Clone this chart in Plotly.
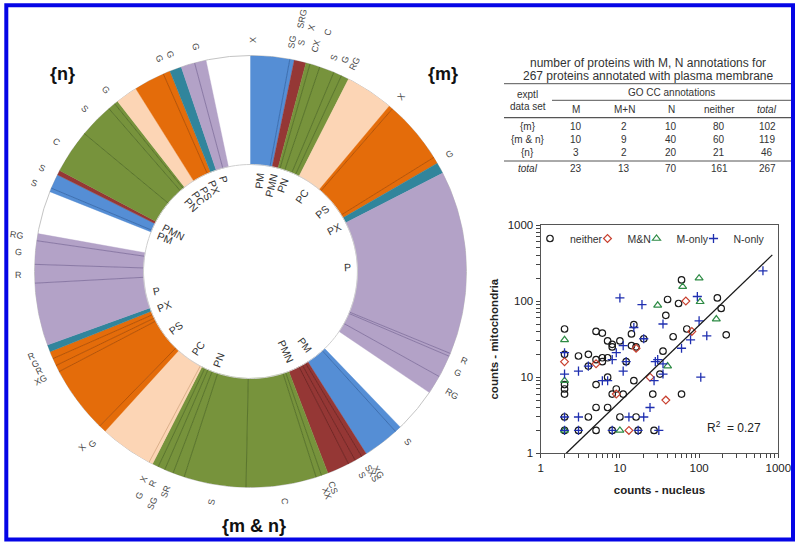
import math
import numpy as np
import plotly.graph_objects as go

# ---------- ring data: widths (degrees) of sub-slices, clockwise from 12 o'clock ----------
sector_kind = ["blue","red","green","peach","orange","teal","purple","none",
               "blue","red","green","peach","orange","teal","purple","none",
               "blue","red","green","peach","orange","teal","purple","none"]
sector_widths = [
    [10.5,1.2],[3.2],[1.1,2.7,4.0,2.2,2.1],[13.0],[1.1,17.0,1.8],[3.0],[49.4,0.8,6.0,5.0],[12.0],
    [1.7,9.8],[1.4,2.0,2.0,6.0],[1.8,1.5,18.9,16.7,3.1,2.4,1.9,1.7],[1.0,14.3],[2.0,18.1,1.8,2.0,2.0],[1.9],[16.8,5.0,6.3,1.9],[11.6],
    [1.0,3.9],[1.3],[11.8,9.3,2.0,1.0],[5.9],[8.3,1.9],[3.2],[3.7,3.1],[11.9],
]
kind_fill = {"blue":"#558ed5","red":"#953735","green":"#77933c","peach":"#fcd5b5",
             "orange":"#e46c0a","teal":"#31859c","purple":"#b3a2c7","none":"rgba(0,0,0,0)"}
kind_line = {"blue":"#3a6bab","red":"#6e2523","green":"#56702a","peach":"#d8ac84",
             "orange":"#b05007","teal":"#24687a","purple":"#8574a0","none":"rgba(0,0,0,0)"}

outer_labels = ["X","SG","SRG","S","X","CX","C","S","G","RG","X","G","R","G","RG","S","S","SXS","XG","CS","XX","C",
                "S","SR","R","SG","X","G","G","X","XG","R","G","R","R","G","RG","S","S","C","S","G","G","G","G"]
outer_theta = [0.5,10.2,11.6,12.6,14.1,16.1,18.0,21.4,24.1,26.7,40.7,59.5,112.6,116.1,121.4,137.2,151.3,149.0,147.5,159.2,160.9,171.5,
               189.5,201.2,204.8,202.9,207.1,206.4,222.5,223.8,242.7,244.8,246.7,248.9,269.2,274.7,278.9,292.1,296.3,303.7,314.6,321.4,336.8,339.8,346.3]
outer_r = [231,233.5,258.5,234,251,235,251.5,230,231.6,233,230.5,231,232,231,235.7,232,232,235,237.6,232,235,233,
           234,236,233,251.6,233.5,250.5,234,244,236,233.5,234.6,234.5,232,233,236.6,234,233,233,232,232,232,231,231]

inner_labels = ["PM","PMN","PN","PC","PS","PX","P","PM","PMN","PN","PC","PS","PX","P","PM","PMN","PN","PC","PS","PX","P"]
inner_theta = [5.3,13.5,20.4,34,50,63.2,87.1,143.4,155.8,200,214.2,232.8,248.4,258.3,291.2,297.3,318.5,324.5,330.3,336.6,343.6]
inner_r = [91.2,87.9,92.3,91.5,93,93.5,97,91.5,86.8,94,92.9,94,92.7,96.5,91.7,86.8,88.8,89.9,90,91.8,96]

# ---------- table ----------
table_title = ["number of proteins with M, N annotations for","267 proteins annotated with plasma membrane"]
table_cols = ["M","M+N","N","neither","total"]
table_rows = ["{m}","{m & n}","{n}","total"]
table_vals = [[10,2,10,80,102],[10,9,40,60,119],[3,2,20,21,46],[23,13,70,161,267]]

# ---------- scatter ----------
neither_x = [2,2,2,2,2,3,4,4,5,6,7,8,8,10,14,15,14,16,20,5,6,6,7,7,5,9,8,11,15,12,5,7,4,10,16,5,8,17,27,26,32,35,38,40,55,60,47,70,60,170,190,220,2,3,2]
neither_y = [43,6,7,8,20,19,20,14,40,38,30,27,25,30,37,49,26,25,32,17,18,16,18,10,8,7,6,6,9,16,4,4,3,3,3,2,2,2,2,6,11,22,65,105,93,190,34,43,6,110,80,36,2,2,3]
mn_x = [2,5,9,16,24,38,13,81,68]
mn_y = [16,15,6,24,10,5,2,40,100]
m_x = [2,2,2,10,40,30,62,100,103,165]
m_y = [31,9,2,2,14,88,155,200,98,58]
n_x = [2,2,2,2,3,3,3,4,6,7,8,9,11,11,12,13,8,17,10,19,15,20,20,24,27,28,30,35,35,31,35,60,78,100,125,105,95,640]
n_y = [21,11,3,2,12,3,2,14,9,9,17,21,26,12,16,3,2,2,110,90,45,32,3,4,9,16,17,15,11,2,50,24,31,55,35,10,115,250]
fit_x = [2.1,840]
fit_y = [1,405]
tick_values = [1,2,3,4,5,6,7,8,9,10,20,30,40,50,60,70,80,90,100,200,300,400,500,600,700,800,900,1000]
tick_text = ["1"]+[""]*8+["10"]+[""]*8+["100"]+[""]*8+["1000"]

W, H = 800, 545
CX, CY, R_OUT, R_IN = 250.5, 271.5, 216.0, 107.0
px = lambda x: x / W
py = lambda y: 1 - y / H

fig = go.Figure()

# ring
thetas, widths, fills, edges = [], [], [], []
sub_t, sub_r, sub_c = [], [], []
pos = 0.0
for kind, ws in zip(sector_kind, sector_widths):
    for i, w in enumerate(ws):
        thetas.append(pos + w / 2); widths.append(w)
        fills.append(kind_fill[kind]); edges.append(kind_fill[kind])
        pos += w
        if i < len(ws) - 1:
            sub_t.append(pos); sub_c.append(kind_line[kind])
fig.add_trace(go.Barpolar(theta=thetas, width=widths, r=[R_OUT - R_IN] * len(thetas), base=R_IN,
                          marker=dict(color=fills, line=dict(color=edges, width=0.4)),
                          showlegend=False, hoverinfo="skip"))
for colour in sorted(set(sub_c)):
    t, r = [], []
    for a, c in zip(sub_t, sub_c):
        if c == colour:
            t += [a, a, None]; r += [R_IN, R_OUT, None]
    fig.add_trace(go.Scatterpolar(theta=t, r=r, mode="lines", line=dict(color=colour, width=0.9),
                                  showlegend=False, hoverinfo="skip"))
# inner circle
circle = list(np.arange(0, 361, 2.0))
fig.add_trace(go.Scatterpolar(theta=circle, r=[R_IN] * len(circle), mode="lines",
                              line=dict(color="#cfcfcf", width=1), showlegend=False, hoverinfo="skip"))
# ticks
tt, tr = [], []
for a, r in zip(outer_theta, outer_r):
    tt += [a, a, None]
    tr += [219, (224 if r < 240 else r - 13), None]
fig.add_trace(go.Scatterpolar(theta=tt, r=tr, mode="lines", line=dict(color="#444444", width=0.8),
                              cliponaxis=False, showlegend=False, hoverinfo="skip"))

# scatter
fig.add_trace(go.Scatter(x=neither_x, y=neither_y, mode="markers", name="neither",
    marker=dict(symbol="circle-open", size=6.5, color="#1a1a1a", line=dict(width=1.2)), legendwidth=12.5))
fig.add_trace(go.Scatter(x=mn_x, y=mn_y, mode="markers", name="M&N",
    marker=dict(symbol="diamond-open", size=6, color="#c8402f", line=dict(width=1.2)), legendwidth=4))
fig.add_trace(go.Scatter(x=m_x, y=m_y, mode="markers", name="M-only",
    marker=dict(symbol="triangle-up-open", size=7, color="#2e8b45", line=dict(width=1.2)), legendwidth=12))
fig.add_trace(go.Scatter(x=n_x, y=n_y, mode="markers", name="N-only",
    marker=dict(symbol="cross-thin-open", size=6.5, color="#1f2fb0", line=dict(width=1.3)), legendwidth=33))
fig.add_trace(go.Scatter(x=fit_x, y=fit_y, mode="lines", line=dict(color="#1a1a1a", width=1.3),
                         showlegend=False, hoverinfo="skip"))

ann = []
def text(x, y, s, size=10, color="#333333", bold=False, italic=False, angle=0):
    if bold: s = "<b>%s</b>" % s
    if italic: s = "<i>%s</i>" % s
    ann.append(dict(x=px(x), y=py(y), xref="paper", yref="paper", text=s, showarrow=False,
                    xanchor="center", yanchor="middle", textangle=angle,
                    font=dict(size=size, color=color)))

def polar_text(s, a, r, size, color):
    x = CX + r * math.sin(math.radians(a))
    y = CY - r * math.cos(math.radians(a))
    text(x, y, s, size=size, color=color, angle=(a - 90 if a <= 180 else a - 270))

for s, a, r in zip(outer_labels, outer_theta, outer_r):
    polar_text(s, a, r, 9, "#4a4a4a")
for s, a, r in zip(inner_labels, inner_theta, inner_r):
    polar_text(s, a, r, 10.5, "#333333")

text(62, 74, "{n}", size=18, color="#111111", bold=True)
text(443, 74, "{m}", size=18, color="#111111", bold=True)
text(253.5, 526, "{m &amp; n}", size=18, color="#111111", bold=True)

# table text
text(647.7, 62.7, table_title[0], size=12)
text(647.7, 76, table_title[1], size=12)
text(527.7, 94, "exptl", size=10)
text(527.7, 106.7, "data set", size=10)
text(671, 92.3, "GO CC annotations", size=10)
col_x = [576, 624, 671, 719.3, 767.3]
row_y = [126, 139.3, 152.7, 168]
for c, x in zip(table_cols, col_x):
    text(x, 109.3, c, size=10, italic=(c == "total"))
for j, (lab, y) in enumerate(zip(table_rows, row_y)):
    text(527.7, y, lab.replace("&", "&amp;"), size=10, italic=(lab == "total"))
    for c, x, v in zip(table_cols, col_x, table_vals[j]):
        text(x, y, str(v), size=10)
text(734, 427, "R<sup>2</sup>  = 0.27", size=12, color="#222222")

shapes = []
def rule(x0, x1, y, w=1.0):
    shapes.append(dict(type="line", xref="paper", yref="paper", x0=px(x0), x1=px(x1), y0=py(y), y1=py(y),
                       line=dict(color="#555555", width=w)))
rule(504, 791, 83.7); rule(552, 791, 100.3); rule(504, 791, 117.7, 1.2); rule(504, 791, 161)
shapes.append(dict(type="rect", xref="paper", yref="paper", x0=px(6.3), x1=px(793), y0=py(5.3), y1=py(539.5),
                   line=dict(color="#0505e6", width=4), fillcolor="rgba(0,0,0,0)"))

axis_common = dict(type="log", range=[0, 3], tickmode="array", tickvals=tick_values, ticktext=tick_text,
                   showgrid=False, zeroline=False, showline=True, mirror=True,
                   automargin=False,
                   linecolor="#555555", linewidth=1.3, ticks="outside", ticklen=4, tickwidth=1, tickcolor="#444444",
                   tickfont=dict(size=11.5, color="#222222"))

fig.update_layout(
    width=W, height=H, autosize=False, margin=dict(l=0, r=0, t=0, b=0, pad=0, autoexpand=False),
    paper_bgcolor="white", plot_bgcolor="white",
    font=dict(family="Liberation Sans, Arial, sans-serif"),
    polar=dict(domain=dict(x=[px(CX - R_OUT), px(CX + R_OUT)], y=[py(CY + R_OUT), py(CY - R_OUT)]),
               bgcolor="rgba(0,0,0,0)", hole=0, barmode="overlay",
               radialaxis=dict(range=[0, R_OUT], visible=False),
               angularaxis=dict(rotation=90, direction="clockwise", showgrid=False, showticklabels=False,
                                ticks="", showline=True, linecolor="#c4c4c4", linewidth=1, layer="below traces")),
    xaxis=dict(domain=[px(540.7), px(778.3)], anchor="y",
               title=dict(text="<b>counts - nucleus</b>", font=dict(size=11.5, color="#222222"), standoff=12), **axis_common),
    yaxis=dict(domain=[py(453.3), py(225)], anchor="x",
               title=dict(text="<b>counts - mitochondria</b>", font=dict(size=11.5, color="#222222"), standoff=6), **axis_common),
    legend=dict(orientation="h", x=px(530), y=py(224), xanchor="left", yanchor="top", bgcolor="rgba(0,0,0,0)",
                font=dict(size=10.5, color="#333333"), itemwidth=30, entrywidthmode="pixels", tracegroupgap=0),
    annotations=ann, shapes=shapes,
)

fig.write_html("out.html", config={"displayModeBar": False},
               post_script="document.body.style.margin='0';document.body.style.overflow='hidden';")
